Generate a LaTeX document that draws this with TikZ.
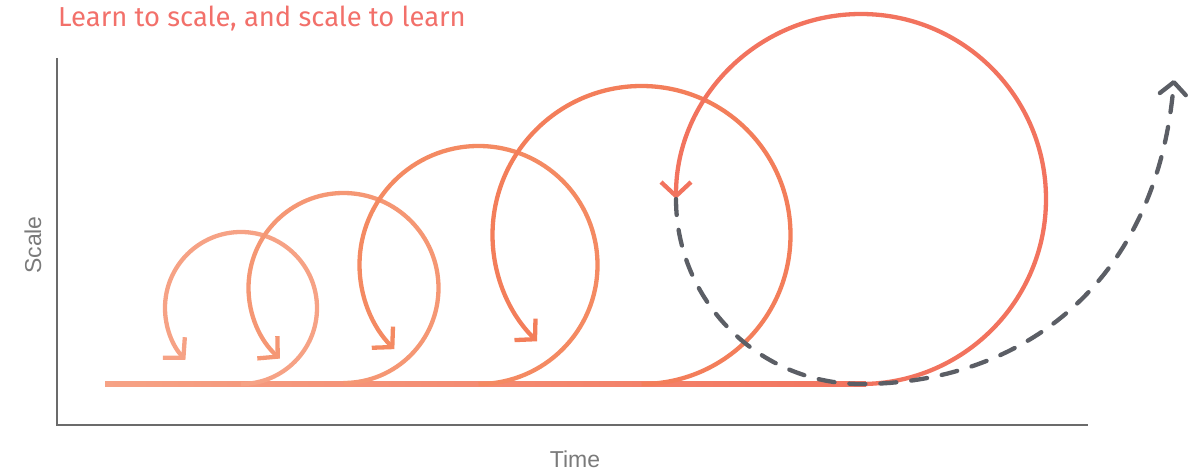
\documentclass[tikz,border=0pt]{standalone}
\usepackage{fontspec}
\setmainfont{Liberation Sans}
\newfontfamily\titlefont{Fira Sans}
\usetikzlibrary{arrows.meta}
\definecolor{cA}{HTML}{F6A285}
\definecolor{cB}{HTML}{F59774}
\definecolor{cC}{HTML}{F48A62}
\definecolor{cD}{HTML}{F37E5A}
\definecolor{cE}{HTML}{F2735E}
\definecolor{titlec}{HTML}{F2706A}
\definecolor{axisc}{HTML}{6B6B6B}
\definecolor{labelc}{HTML}{7A7A7A}
\definecolor{dashc}{HTML}{5B5E65}
\begin{document}
\begin{tikzpicture}[x=1pt,y=1pt,
  loopline/.style={line width=4.3pt, -{Straight Barb[length=14pt,width=30pt]}},
  axisline/.style={draw=axisc, line width=1.2pt},
  dashline/.style={draw=dashc, line width=4.3pt, line cap=round, dash pattern=on 16pt off 15pt,
     -{Straight Barb[length=12pt,width=26pt,round]}},
  axislabel/.style={text=labelc, font=\fontsize{23}{27}\selectfont, inner sep=0pt}]
\useasboundingbox (0,-470) rectangle (1201,0);
% title
\node[anchor=base west, text=titlec, font=\titlefont\fontsize{27.4}{32}\selectfont, inner sep=0pt] (title) at (58,-27) {Learn to scale, and scale to learn};
% axes
\coordinate (ytop) at (57,-58);
\coordinate (origin) at (57,-425);
\coordinate (xend) at (1088,-425);
\draw[axisline] (ytop) -- (origin) -- (xend);
\node[axislabel, rotate=90] (ylab) at (33,-245) {Scale};
\node[axislabel, anchor=base] (xlab) at (575,-467) {Time};
% baseline
\shade[left color=cA, right color=cE] (105,-381.8) rectangle (866,-386.1);
% loops
\draw[loopline, draw=cA] (241,-384) arc[start angle=-90, end angle=223, radius=76];
\draw[loopline, draw=cB] (343.5,-383) arc[start angle=-90, end angle=228, radius=95];
\draw[loopline, draw=cC] (478.5,-384) arc[start angle=-90, end angle=225, radius=119];
\draw[loopline, draw=cD] (641.5,-384) arc[start angle=-90, end angle=225.5, radius=149];
\draw[loopline, draw=cE] (861,-384) arc[start angle=-90, end angle=180, radius=185];
% dashed continuation
\coordinate (dstart) at (676,-199);
\coordinate (dend) at (1174,-80);
\draw[dashline] (dstart) arc[start angle=180, end angle=270, radius=185]
   .. controls (1020,-384) and (1157,-285) .. (dend);
\end{tikzpicture}
\end{document}
